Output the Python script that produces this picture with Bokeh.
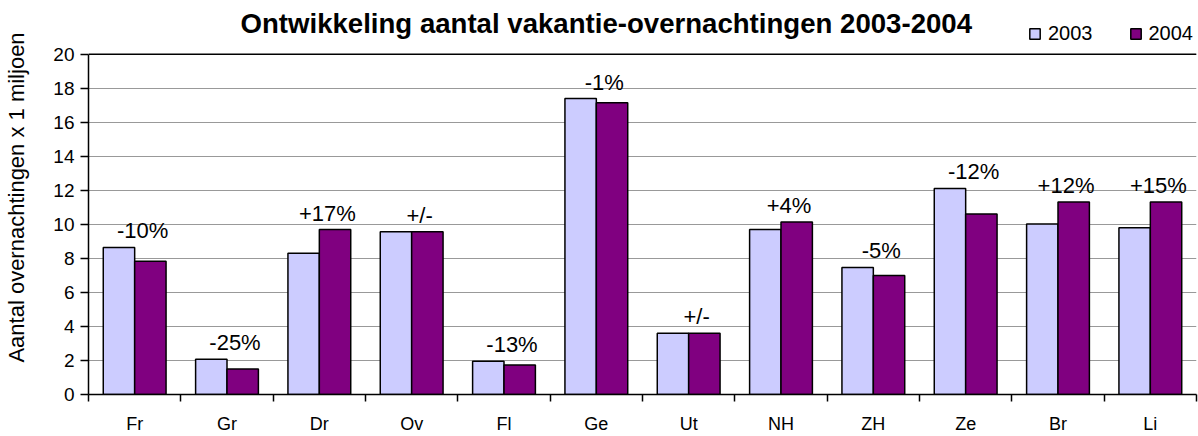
import numpy as np
from bokeh.plotting import figure
from bokeh.models import Range1d, FixedTicker, Span, Legend, LegendItem, Label
from bokeh.embed import file_html
from bokeh.resources import INLINE
from bokeh.core.properties import value

categories = ["Fr", "Gr", "Dr", "Ov", "Fl", "Ge", "Ut", "NH", "ZH", "Ze", "Br", "Li"]
v2003 = [8.65, 2.07, 8.30, 9.57, 1.95, 17.40, 3.60, 9.70, 7.47, 12.12, 10.03, 9.80]
v2004 = [7.83, 1.50, 9.70, 9.57, 1.74, 17.15, 3.60, 10.15, 7.00, 10.62, 11.32, 11.32]
changes = ["-10%", "-25%", "+17%", "+/-", "-13%", "-1%", "+/-", "+4%", "-5%", "-12%", "+12%", "+15%"]
series_names = ["2003", "2004"]
y_ticks = list(range(0, 21, 2))
title_text = "Ontwikkeling aantal vakantie-overnachtingen 2003-2004"

FONT = "Liberation Sans"
n = len(categories)
centers = np.arange(n) + 0.5
y_max = y_ticks[-1]
# frame extends above the value axis so the title and legend row are drawn inside it
y_top = y_max * 395 / 341

p = figure(width=1198, height=436, x_range=Range1d(0, n), y_range=Range1d(0, y_top),
           output_backend="svg", toolbar_location=None,
           min_border_left=88, min_border_right=2, min_border_top=0, min_border_bottom=41)
p.outline_line_color = None
p.xgrid.visible = False
p.ygrid.ticker = FixedTicker(ticks=y_ticks)
p.ygrid.grid_line_color = "#999999"
p.ygrid.grid_line_width = 1.2

bw = 0.34
r1 = p.vbar(x=centers - bw / 2, top=v2003, width=bw, fill_color="#CCCCFF",
            line_color="black", line_width=1.5)
r2 = p.vbar(x=centers + bw / 2, top=v2004, width=bw, fill_color="#800080",
            line_color="black", line_width=1.5)

p.add_layout(Span(location=y_max, dimension="width", line_color="black", line_width=1.5))

label_y = np.maximum(np.array(v2003), np.array(v2004)) + 0.97
p.text(x=centers, y=label_y, text=changes, x_offset=8, text_align="center",
       text_baseline="middle", text_font=value(FONT), text_font_size="22px",
       text_color="black")

# x axis
p.xaxis.ticker = FixedTicker(ticks=list(centers), minor_ticks=list(range(n + 1)))
p.xaxis.major_label_overrides = {float(c): name for c, name in zip(centers, categories)}
p.xaxis.axis_label = None
p.xaxis.major_tick_in = 0
p.xaxis.major_tick_out = 0
p.xaxis.minor_tick_in = 0
p.xaxis.minor_tick_out = 7
p.xaxis.minor_tick_line_color = "black"
p.xaxis.minor_tick_line_width = 1.5
p.xaxis.axis_line_color = "black"
p.xaxis.axis_line_width = 1.5
p.xaxis.major_label_text_font = FONT
p.xaxis.major_label_text_font_size = "18px"
p.xaxis.major_label_text_color = "black"
p.xaxis.major_label_standoff = 12

# y axis
p.yaxis.ticker = FixedTicker(ticks=y_ticks)
p.yaxis.bounds = (0, y_max)
p.yaxis.major_tick_in = 0
p.yaxis.major_tick_out = 8
p.yaxis.major_tick_line_width = 1.5
p.yaxis.minor_tick_line_color = None
p.yaxis.axis_line_width = 1.5
p.yaxis.major_label_text_font = FONT
p.yaxis.major_label_text_font_size = "19px"
p.yaxis.major_label_text_color = "black"
p.yaxis.major_label_standoff = 6
p.yaxis.axis_label = "Aantal overnachtingen x 1 miljoen"
p.yaxis.axis_label_text_font = FONT
p.yaxis.axis_label_text_font_size = "22px"
p.yaxis.axis_label_text_font_style = "normal"
p.yaxis.axis_label_text_color = "black"
p.yaxis.axis_label_standoff = 21

p.add_layout(Label(x=152, y=371, x_units="screen", y_units="screen", text=title_text,
                   text_align="left", text_baseline="middle", text_font=FONT,
                   text_font_size="27.6px", text_font_style="bold", text_color="black"))

legend = Legend(items=[LegendItem(label=series_names[0], renderers=[r1]),
                       LegendItem(label=series_names[1], renderers=[r2])],
                orientation="horizontal", location=(940, 349),
                background_fill_alpha=0, border_line_color=None,
                glyph_width=13, glyph_height=13, label_standoff=7, spacing=36,
                padding=0, margin=0, label_text_font=FONT, label_text_font_size="20px",
                label_text_color="black")
p.add_layout(legend)

open("out.html", "w").write(file_html(p, INLINE))
